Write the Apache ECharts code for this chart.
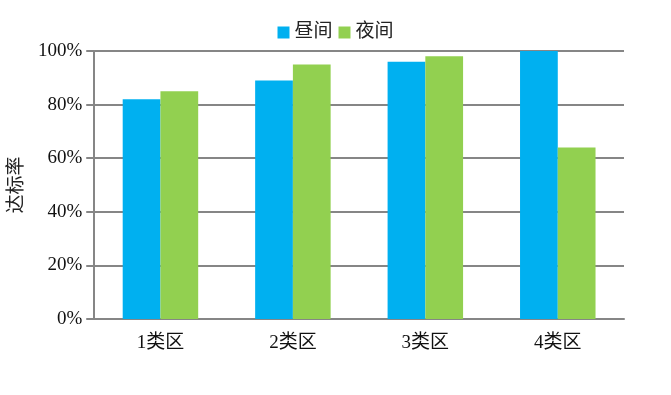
<!DOCTYPE html>
<html><head><meta charset="utf-8">
<script src="https://cdn.jsdelivr.net/npm/echarts@6/dist/echarts.min.js"></script>
<style>html,body{margin:0;padding:0;background:#fff}#c{width:671px;height:395px}</style>
</head><body><div id="c"></div>
<script>
const categories = ['1类区','2类区','3类区','4类区'];
const dayValues = [82, 89, 96, 100];
const nightValues = [85, 95, 98, 64];
const seriesNames = ['昼间','夜间'];
const yTicks = [0, 20, 40, 60, 80, 100];

const FONT = '"Liberation Serif","Noto Sans CJK SC",serif';
const gray = '#868686';
const chart = echarts.init(document.getElementById('c'));
chart.setOption({
  animation: false,
  legend: {
    top: 18, left: 'center', itemWidth: 12, itemHeight: 12, itemGap: 6,
    icon: 'rect',
    textStyle: {fontFamily: FONT, fontSize: 19, color: '#222'},
    data: seriesNames
  },
  grid: {left: 92, right: 47, top: 51, bottom: 76},
  xAxis: {
    type: 'category', data: categories,
    axisLine: {lineStyle: {color: gray, width: 2}},
    axisTick: {length: 7, lineStyle: {color: gray, width: 2}},
    axisLabel: {fontFamily: FONT, fontSize: 19, color: '#111', margin: 15}
  },
  yAxis: {
    type: 'value', min: yTicks[0], max: yTicks[yTicks.length-1], interval: 20,
    name: '达标率', nameLocation: 'middle', nameGap: 61, nameRotate: 90,
    nameTextStyle: {fontFamily: FONT, fontSize: 19, color: '#222'},
    axisLine: {show: true, lineStyle: {color: gray, width: 2}},
    axisTick: {show: true, length: 8, lineStyle: {color: gray, width: 2}},
    splitLine: {lineStyle: {color: gray, width: 2}},
    axisLabel: {fontFamily: FONT, fontSize: 19, color: '#111', margin: 12, formatter: v => v + '%'}
  },
  series: [
    {name: seriesNames[0], type: 'bar', data: dayValues, itemStyle: {color: '#00B0F0'}, barGap: '0%', barCategoryGap: '43%'},
    {name: seriesNames[1], type: 'bar', data: nightValues, itemStyle: {color: '#92D050'}}
  ]
});
</script></body></html>
